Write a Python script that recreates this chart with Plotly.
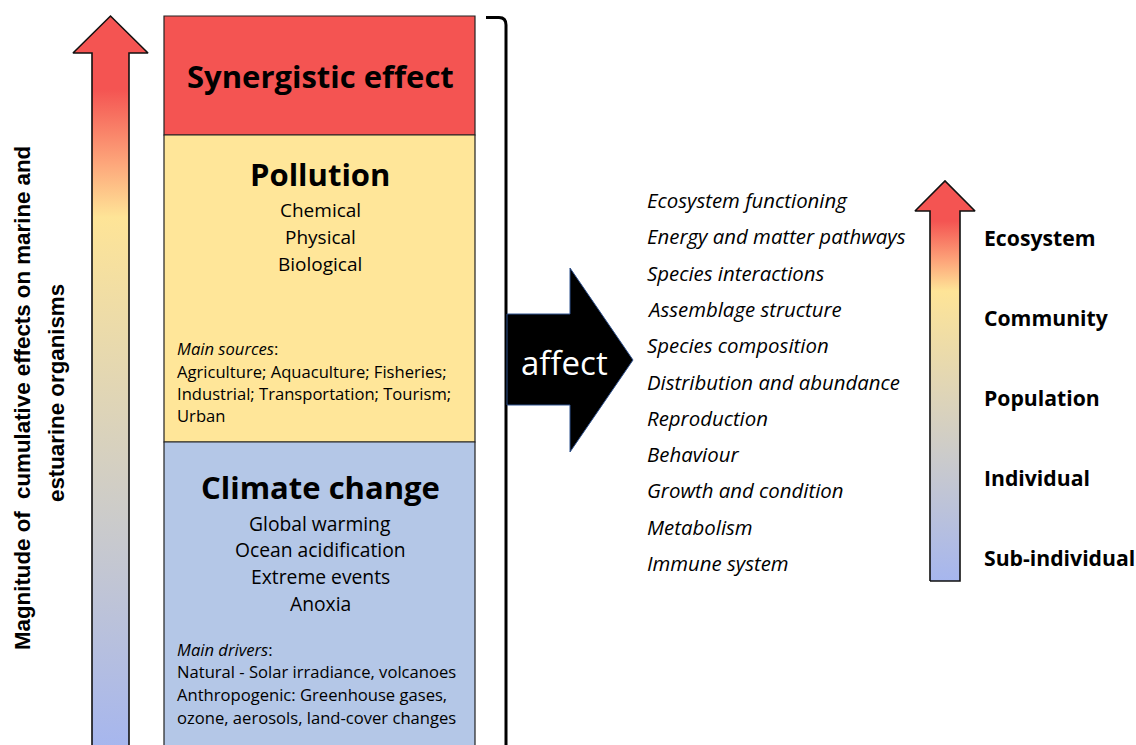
import plotly.graph_objects as go

W, H = 1136, 745

# ---- data / text content ----
box_titles = ["Synergistic effect", "Pollution", "Climate change"]
pollution_types = ["Chemical", "Physical", "Biological"]
pollution_sources_head = "Main sources"
pollution_sources = ["Agriculture; Aquaculture; Fisheries;",
                     "Industrial; Transportation; Tourism;",
                     "Urban"]
climate_types = ["Global warming", "Ocean acidification", "Extreme events", "Anoxia"]
climate_drivers_head = "Main drivers"
climate_drivers = ["Natural - Solar irradiance, volcanoes",
                   "Anthropogenic: Greenhouse gases,",
                   "ozone, aerosols, land-cover changes"]
effects = ["Ecosystem functioning", "Energy and matter pathways", "Species interactions",
           "Assemblage structure", "Species composition", "Distribution and abundance",
           "Reproduction", "Behaviour", "Growth and condition", "Metabolism", "Immune system"]
levels = ["Ecosystem", "Community", "Population", "Individual", "Sub-individual"]
y_title = ["Magnitude of  cumulative effects on marine and", "estuarine organisms"]
arrow_word = "affect"

BODY = "Open Sans"
grad = [[0.0, "#A6B6EE"], [0.31, "#CBCBCB"], [0.725, "#FEE497"],
        [0.80, "#FDA57A"], [0.90, "#F45452"], [1.0, "#F45452"]]

fig = go.Figure()

def arrow_up(x0, x1, hx0, hx1, tip, hb, bottom):
    xc = (hx0 + hx1) / 2
    xs = [x0, x0, hx0, xc, hx1, x1, x1, x0]
    ys = [bottom, hb, hb, tip, hb, hb, bottom, bottom]
    fig.add_trace(go.Scatter(x=xs, y=ys, mode="lines", fill="toself",
                             line=dict(color="#111111", width=1.6),
                             fillgradient=dict(type="vertical", colorscale=grad,
                                               start=bottom, stop=tip),
                             hoverinfo="skip", showlegend=False))

# left big arrow
arrow_up(92, 129, 73, 148, 16, 53, 748)
# right small arrow
arrow_up(930, 960, 915, 975, 181, 211, 581)

shapes = []
# boxes
shapes.append(dict(type="rect", x0=164, x1=475, y0=16, y1=135, fillcolor="#F45452",
                   line=dict(color="#222222", width=1.2), layer="below"))
shapes.append(dict(type="rect", x0=164, x1=475, y0=135, y1=442, fillcolor="#FFE699",
                   line=dict(color="#222222", width=1.2), layer="below"))
shapes.append(dict(type="rect", x0=164, x1=475, y0=442, y1=750, fillcolor="#B4C7E7",
                   line=dict(color="#222222", width=1.2), layer="below"))
# bracket
shapes.append(dict(type="path", path="M 486 17.5 L 499 17.5 Q 506 17.5 506 25 L 506 750",
                   line=dict(color="black", width=3)))
# black arrow
shapes.append(dict(type="path",
                   path="M 507 314 L 570 314 L 570 268 L 633 360 L 570 452 L 570 405 L 507 405 Z",
                   fillcolor="black", line=dict(color="#2F528F", width=1)))
fig.update_layout(shapes=shapes)

ann = []
def t(x, y, s, size, bold=False, italic=False, color="black", xa="center", fam=BODY, angle=0):
    txt = s
    if bold:
        txt = "<b>" + txt + "</b>"
    if italic:
        txt = "<i>" + txt + "</i>"
    ann.append(dict(x=x, y=y, xref="x", yref="y", text=txt, showarrow=False,
                    xanchor=xa, yanchor="middle", textangle=angle,
                    font=dict(family=fam, size=size, color=color)))

t(320, 76, box_titles[0], 31, bold=True)
t(320, 174, box_titles[1], 31, bold=True)
for i, s in enumerate(pollution_types):
    t(320, 210 + 27 * i, s, 19)
t(175, 348, "<i>" + pollution_sources_head + "</i>:", 16.6, xa="left")
for i, s in enumerate(pollution_sources):
    t(175, 371 + 22 * i, s, 16.6, xa="left")
t(320, 487, box_titles[2], 31, bold=True)
for i, s in enumerate(climate_types):
    t(320, 523 + 26.7 * i, s, 19.3)
t(175, 649, "<i>" + climate_drivers_head + "</i>:", 16.6, xa="left")
for i, s in enumerate(climate_drivers):
    t(175, 671 + 23 * i, s, 16.6, xa="left")

t(564, 362, arrow_word, 33, color="white")

for i, s in enumerate(effects):
    t(645, 200 + 36.3 * i, s, 20.4, italic=True, xa="left")

for i, s in enumerate(levels):
    t(982, 237 + 80.2 * i, s, 21.2, bold=True, xa="left")

t(22, 398, y_title[0], 22.3, bold=True, fam="Liberation Sans", angle=-90)
t(56, 393, y_title[1], 22.3, bold=True, fam="Liberation Sans", angle=-90)

fig.update_layout(annotations=ann)

fig.update_layout(
    width=W, height=H, margin=dict(l=0, r=0, t=0, b=0),
    paper_bgcolor="white", plot_bgcolor="white", showlegend=False,
    xaxis=dict(range=[0, W], visible=False, fixedrange=True),
    yaxis=dict(range=[H, 0], visible=False, fixedrange=True),
)

fig.write_html("out.html", config={"displayModeBar": False},
               post_script="document.body.style.margin='0';document.body.style.overflow='hidden';")
